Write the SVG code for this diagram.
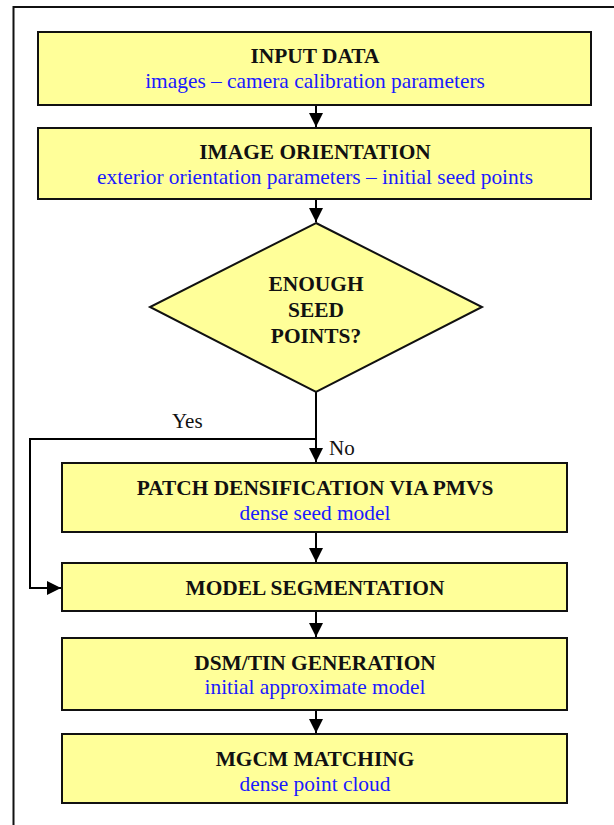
<svg xmlns="http://www.w3.org/2000/svg" width="614" height="825" viewBox="0 0 614 825">
<defs>
<style>
.box{fill:#FFFF99;stroke:#111;stroke-width:2}
.h{font-family:"Liberation Serif","Times New Roman",serif;font-weight:bold;font-size:21.4px;fill:#111;text-anchor:middle}
.s{font-family:"Liberation Serif","Times New Roman",serif;font-size:21.4px;fill:#1a1aff;text-anchor:middle}
.l{font-family:"Liberation Serif","Times New Roman",serif;font-size:21px;fill:#111}
.c{fill:none;stroke:#000;stroke-width:2}
</style>
<marker id="arr" viewBox="0 0 14 14" refX="14" refY="7" markerWidth="14" markerHeight="14" markerUnits="userSpaceOnUse" orient="auto">
<path d="M0,0 L14,7 L0,14 Z" fill="#000"/>
</marker>
</defs>
<rect width="614" height="825" fill="#fff"/>
<path d="M614,7 H13.5 V825" fill="none" stroke="#111" stroke-width="2"/>
<g id="connectors">
<line class="c" x1="316" y1="105" x2="316" y2="127" marker-end="url(#arr)"/>
<line class="c" x1="316" y1="199" x2="316" y2="222" marker-end="url(#arr)"/>
<line class="c" x1="316" y1="392" x2="316" y2="462" marker-end="url(#arr)"/>
<path class="c" d="M316,439 H30 V588 H61" marker-end="url(#arr)" stroke-width="1.5"/>
<line class="c" x1="316" y1="532" x2="316" y2="562" marker-end="url(#arr)"/>
<line class="c" x1="316" y1="611" x2="316" y2="637" marker-end="url(#arr)"/>
<line class="c" x1="316" y1="710" x2="316" y2="733" marker-end="url(#arr)"/>
<text class="l" x="172" y="428">Yes</text>
<text class="l" x="329" y="455">No</text>
</g>
<g id="input-data">
<rect class="box" x="38" y="32" width="553" height="73"/>
<text class="h" x="315" y="63">INPUT DATA</text>
<text class="s" x="315" y="88">images – camera calibration parameters</text>
</g>
<g id="image-orientation">
<rect class="box" x="38" y="128" width="553" height="71"/>
<text class="h" x="315" y="159">IMAGE ORIENTATION</text>
<text class="s" x="315" y="184">exterior orientation parameters – initial seed points</text>
</g>
<g id="decision">
<polygon class="box" points="316,223 482,307 316,392 150,307" stroke-width="1.5"/>
<text class="h" x="316" y="291">ENOUGH</text>
<text class="h" x="316" y="317">SEED</text>
<text class="h" x="316" y="343">POINTS?</text>
</g>
<g id="patch-densification">
<rect class="box" x="62" y="463" width="505" height="69"/>
<text class="h" x="315" y="495">PATCH DENSIFICATION VIA PMVS</text>
<text class="s" x="315" y="520">dense seed model</text>
</g>
<g id="model-segmentation">
<rect class="box" x="62" y="563" width="505" height="48"/>
<text class="h" x="315" y="595">MODEL SEGMENTATION</text>
</g>
<g id="dsm-tin">
<rect class="box" x="62" y="638" width="505" height="72"/>
<text class="h" x="315" y="670">DSM/TIN GENERATION</text>
<text class="s" x="315" y="694">initial approximate model</text>
</g>
<g id="mgcm">
<rect class="box" x="62" y="734" width="505" height="69"/>
<text class="h" x="315" y="766">MGCM MATCHING</text>
<text class="s" x="315" y="791">dense point cloud</text>
</g>
</svg>
